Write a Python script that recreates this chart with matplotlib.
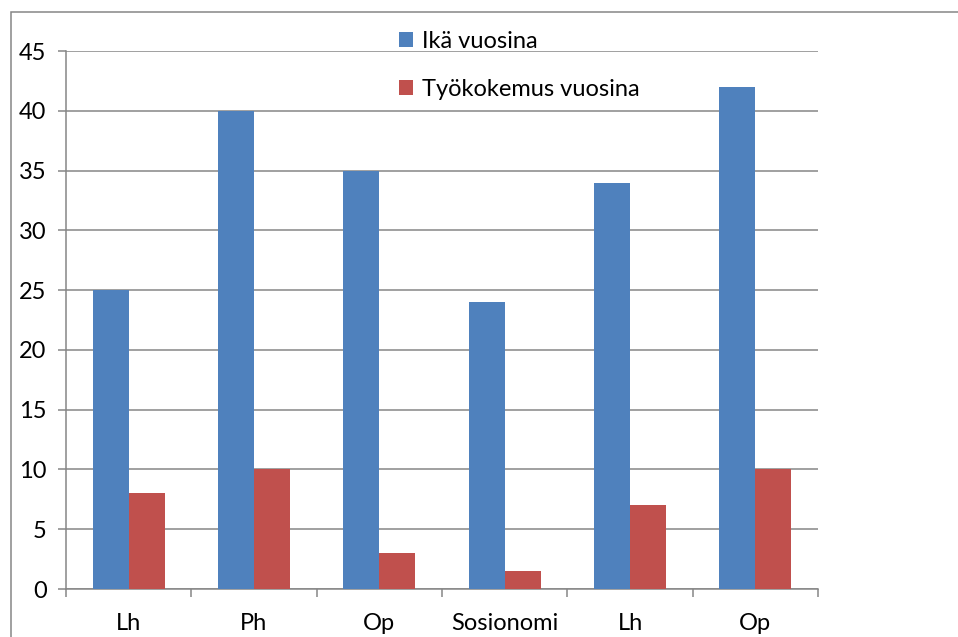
import matplotlib.pyplot as plt
import numpy as np
from matplotlib.patches import Rectangle

categories = ['Lh', 'Ph', 'Op', 'Sosionomi', 'Lh', 'Op']
ika = [25, 40, 35, 24, 34, 42]
tyokokemus = [8, 10, 3, 1.5, 7, 10]

plt.rcParams['font.family'] = ['Lato', 'DejaVu Sans']

fig = plt.figure(figsize=(9.58, 6.37), dpi=100)
ax = fig.add_axes([66/958, 1 - 589/637, (818 - 66)/958, (589 - 51)/637])

x = np.arange(len(categories))
w = 0.287
ax.bar(x - w/2, ika, w, color='#4f81bd', label='Ikä vuosina', zorder=3)
ax.bar(x + w/2, tyokokemus, w, color='#c0504d', label='Työkokemus vuosina', zorder=3)

ax.set_xlim(-0.5, len(categories) - 0.5)
ax.set_ylim(0, 45)
ax.set_yticks(range(0, 46, 5))
ax.yaxis.grid(True, color='#868686', linewidth=1.1)
ax.set_axisbelow(True)

ax.set_xticks(x)
ax.set_xticklabels(categories)
ax.set_xticks(np.arange(-0.5, len(categories)), minor=True)
ax.tick_params(axis='x', which='major', length=0, pad=17, labelsize=17)
ax.tick_params(axis='x', which='minor', length=6, width=1.1, color='#868686', direction='out')
ax.tick_params(axis='y', length=6, width=1.1, color='#868686', labelsize=17, pad=8)

for s in ['top', 'right']:
    ax.spines[s].set_visible(False)
for s in ['left', 'bottom']:
    ax.spines[s].set_color('#868686')
    ax.spines[s].set_linewidth(1.1)

ax.legend(loc='upper left', bbox_to_anchor=(0.43, 1.055), frameon=False, fontsize=17,
          handlelength=0.6, handleheight=0.6, handletextpad=0.4, labelspacing=1.15,
          borderaxespad=0)

# outer chart border
fig.patches.append(Rectangle((11/958, -0.1), 1.2, 1 - 12/637 + 0.1, transform=fig.transFigure,
                             fill=False, edgecolor='#868686', linewidth=1.1))

fig.savefig('out.png', dpi=100)
